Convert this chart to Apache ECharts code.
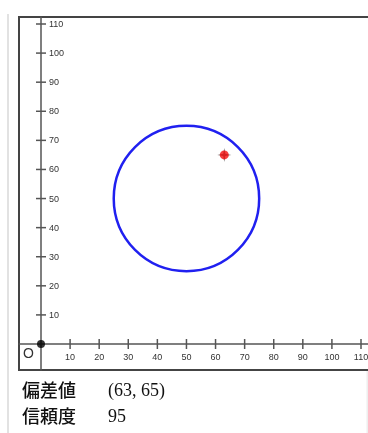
<!DOCTYPE html>
<html><head><meta charset="utf-8">
<script src="https://cdn.jsdelivr.net/npm/echarts@6/dist/echarts.min.js"></script>
<style>html,body{margin:0;padding:0;background:#fff}#c{width:368px;height:433px}</style>
</head><body><div id="c"></div>
<script>
const xTicks = [10,20,30,40,50,60,70,80,90,100,110];
const yTicks = [10,20,30,40,50,60,70,80,90,100,110];
const circleCenter = [50, 50];
const circleRadius = 25;
const deviation = [63, 65];
const confidence = 95;
const rowLabels = ['偏差値', '信頼度'];
const originLabel = 'O';

const chart = echarts.init(document.getElementById('c'), null, {renderer:'canvas'});
const unit = 320/110;
const gridW = 359, gridH = 353;
const xmin = -22/unit, xmax = xmin + gridW/unit;
const ymin = -26/unit, ymax = ymin + gridH/unit;
const tickColor = '#555';
const labelFont = '9px "Liberation Sans", Arial, sans-serif';

chart.setOption({
  animation:false,
  grid:{left:19, top:17, width:gridW, height:gridH, outerBoundsMode:'none', containLabel:false, show:true, borderColor:'#444', borderWidth:2, backgroundColor:'#fff'},
  xAxis:{type:'value', min:xmin, max:xmax, splitLine:{show:false}, axisTick:{show:false}, axisLabel:{show:false},
    axisLine:{onZero:true, lineStyle:{color:'#555', width:1.5}}},
  yAxis:{type:'value', min:ymin, max:ymax, splitLine:{show:false}, axisTick:{show:false}, axisLabel:{show:false},
    axisLine:{onZero:true, lineStyle:{color:'#555', width:1.5}}},
  series:[
    {type:'custom', clip:false, silent:true, z:3,
      data: xTicks.map(v=>[v,0]),
      renderItem:(params, api)=>{
        const p = api.coord([api.value(0), api.value(1)]);
        return {type:'group', children:[
          {type:'line', shape:{x1:p[0], y1:p[1]-5, x2:p[0], y2:p[1]+5}, style:{stroke:tickColor, lineWidth:1.5}},
          {type:'text', style:{text:String(api.value(0)), x:p[0], y:p[1]+14, align:'center', verticalAlign:'middle', font:labelFont, fill:'#333'}}
        ]};
      }},
    {type:'custom', clip:false, silent:true, z:3,
      data: yTicks.map(v=>[0,v]),
      renderItem:(params, api)=>{
        const p = api.coord([api.value(0), api.value(1)]);
        return {type:'group', children:[
          {type:'line', shape:{x1:p[0]-5, y1:p[1], x2:p[0]+5, y2:p[1]}, style:{stroke:tickColor, lineWidth:1.5}},
          {type:'text', style:{text:String(api.value(1)), x:p[0]+8, y:p[1]+0.5, align:'left', verticalAlign:'middle', font:labelFont, fill:'#333'}}
        ]};
      }},
    {type:'custom', clip:false, silent:true, z:4,
      data:[[circleCenter[0], circleCenter[1], circleRadius]],
      renderItem:(params, api)=>{
        const c = api.coord([api.value(0), api.value(1)]);
        const s = api.size([api.value(2), api.value(2)]);
        return {type:'ellipse', shape:{cx:c[0], cy:c[1], rx:s[0], ry:s[1]}, style:{fill:null, stroke:'#2020f0', lineWidth:2.5}};
      }},
    {type:'scatter', z:5, symbol:'circle', symbolSize:8, itemStyle:{color:'#000'}, data:[[0,0]], silent:true},
    {type:'scatter', z:6, symbol:'path://M0,-10 L1.5,-1.5 L10,0 L1.5,1.5 L0,10 L-1.5,1.5 L-10,0 L-1.5,-1.5Z', symbolSize:14,
      itemStyle:{color:'#444'}, data:[deviation], silent:true},
    {type:'scatter', z:7, symbol:'circle', symbolSize:9,
      itemStyle:{color:'#f40f0f'}, data:[deviation], silent:true}
  ],
  graphic:[
    {type:'rect', shape:{x:7, y:14, width:2, height:419}, style:{fill:'#e2e2e2'}, z:-1},
    {type:'rect', shape:{x:366.5, y:20, width:1.5, height:413}, style:{fill:'#eeeeee'}, z:-1},
    {type:'text', left:23, top:347, style:{text:originLabel, font:'14px "Liberation Sans", Arial, sans-serif', fill:'#333'}},
    {type:'text', left:22, top:381, style:{text:rowLabels[0], font:'500 18px "Noto Sans CJK JP", sans-serif', fill:'#111'}},
    {type:'text', left:108, top:382, style:{text:'(' + deviation[0] + ', ' + deviation[1] + ')', font:'18px "Liberation Serif", serif', fill:'#111'}},
    {type:'text', left:22, top:407, style:{text:rowLabels[1], font:'500 18px "Noto Sans CJK JP", sans-serif', fill:'#111'}},
    {type:'text', left:108, top:408, style:{text:String(confidence), font:'18px "Liberation Serif", serif', fill:'#111'}}
  ]
});
</script></body></html>
